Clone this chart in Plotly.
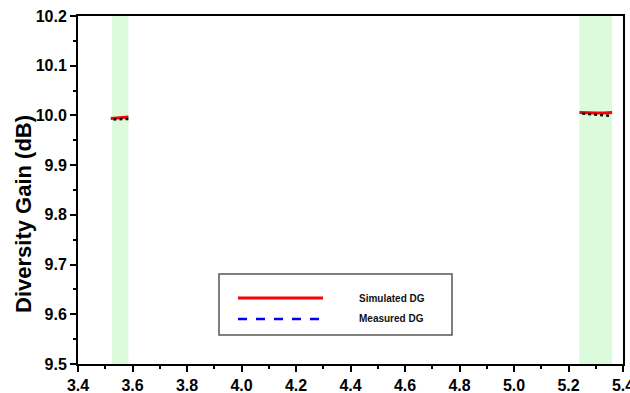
import plotly.graph_objects as go

# Frequency (GHz) and diversity gain (dB) for the two operating bands
sim_low_f = [3.52, 3.54, 3.56, 3.585]
sim_low_dg = [9.994, 9.995, 9.996, 9.997]
meas_low_f = [3.53, 3.55, 3.57, 3.585]
meas_low_dg = [9.992, 9.992, 9.993, 9.993]

sim_high_f = [5.24, 5.27, 5.30, 5.33, 5.36]
sim_high_dg = [10.006, 10.005, 10.005, 10.005, 10.006]
meas_high_f = [5.25, 5.28, 5.31, 5.335, 5.355]
meas_high_dg = [10.004, 10.003, 10.002, 10.000, 9.999]

bands = [(3.525, 3.585), (5.24, 5.36)]
legend_labels = ["Simulated DG", "Measured DG"]
y_title = "Diversity Gain (dB)"

W, H = 630, 393
L, R, T, B = 78, 7, 16, 29
font_family = "Liberation Sans, Arial, sans-serif"

fig = go.Figure()

for f, dg in [(sim_low_f, sim_low_dg), (sim_high_f, sim_high_dg)]:
    fig.add_trace(go.Scatter(x=f, y=dg, mode="lines",
                             line=dict(color="#ff0000", width=3),
                             showlegend=False))
for f, dg in [(meas_low_f, meas_low_dg), (meas_high_f, meas_high_dg)]:
    fig.add_trace(go.Scatter(x=f, y=dg, mode="lines",
                             line=dict(color="#111111", width=2.5, dash="dot"),
                             showlegend=False))

shapes = []
for x0, x1 in bands:
    shapes.append(dict(type="rect", xref="x", yref="paper", x0=x0, x1=x1,
                       y0=0, y1=1, fillcolor="#dcfadc", line=dict(width=0),
                       layer="below"))

pw, ph = W - L - R, H - T - B


def px(x):
    return (x - L) / pw


def py(y):
    return (H - B - y) / ph


# Legend box drawn in paper coordinates
shapes.append(dict(type="rect", xref="paper", yref="paper",
                   x0=px(219), x1=px(452), y0=py(335), y1=py(274),
                   line=dict(color="#555555", width=1.5), fillcolor="white"))
shapes.append(dict(type="line", xref="paper", yref="paper",
                   x0=px(238), x1=px(323), y0=py(298), y1=py(298),
                   line=dict(color="#ff0000", width=3)))
shapes.append(dict(type="line", xref="paper", yref="paper",
                   x0=px(238), x1=px(323), y0=py(319), y1=py(319),
                   line=dict(color="#0000ff", width=2.5, dash="dash")))

annotations = []
for label, yy in zip(legend_labels, [298, 318]):
    annotations.append(dict(text=label, xref="paper", yref="paper",
                            x=px(357), y=py(yy), xanchor="left",
                            yanchor="middle", showarrow=False,
                            font=dict(family=font_family, size=10,
                                      color="#111111", weight="bold")))

# Y-axis title placed as rotated text
annotations.append(dict(text=y_title, xref="paper", yref="paper",
                        x=px(23), y=py(214), xanchor="center",
                        yanchor="middle", textangle=-90, showarrow=False,
                        font=dict(family=font_family, size=22,
                                  color="black", weight="bold")))

axis_common = dict(
    showline=True, linecolor="black", linewidth=2, mirror=True,
    ticks="outside", tickwidth=2, ticklen=6, tickcolor="black",
    showgrid=False, zeroline=False, ticklabeloverflow="allow",
    automargin=False,
    tickfont=dict(family=font_family, size=16, color="black", weight="bold"),
)

fig.update_layout(
    width=W, height=H,
    margin=dict(l=L, r=R, t=T, b=B, autoexpand=False),
    paper_bgcolor="white", plot_bgcolor="white",
    shapes=shapes, annotations=annotations,
    xaxis=dict(range=[3.4, 5.4], dtick=0.2, tickformat=".1f",
               minor=dict(dtick=0.1, ticks="outside", ticklen=3,
                          tickwidth=2, tickcolor="black"),
               **axis_common),
    yaxis=dict(range=[9.5, 10.2], dtick=0.1, tickformat=".1f",
               minor=dict(dtick=0.05, ticks="outside", ticklen=3,
                          tickwidth=2, tickcolor="black"),
               **axis_common),
)

fig.write_html("out.html")
